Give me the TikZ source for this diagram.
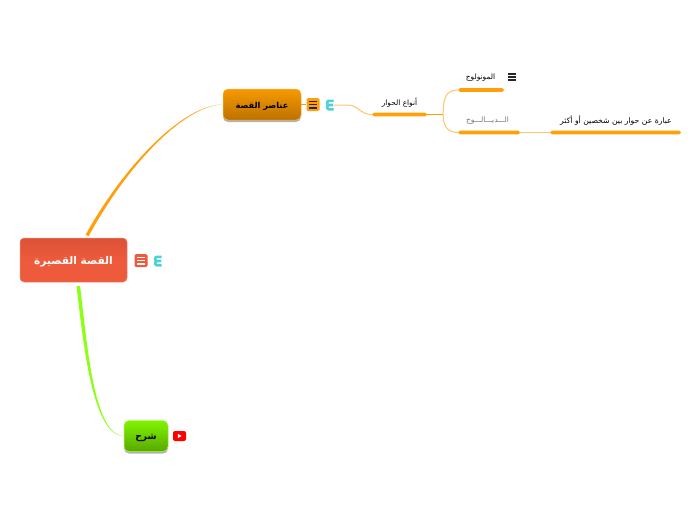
\documentclass[tikz,border=0pt]{standalone}
\usepackage{fontspec}
\usetikzlibrary{calc,shadows}
\TeXXeTstate=1
\newfontfamily\arabicfont[Script=Arabic]{DejaVu Sans}
\definecolor{rootred}{HTML}{EE5A3C}
\definecolor{rootdark}{HTML}{DC5237}
\definecolor{orangetop}{HTML}{F79A00}
\definecolor{orangebot}{HTML}{BC7100}
\definecolor{linkorange}{HTML}{FF9F0A}
\definecolor{paleorange}{HTML}{FFC56B}
\definecolor{greentop}{HTML}{80F400}
\definecolor{greenbot}{HTML}{58A800}
\definecolor{linkgreen}{HTML}{8CFF14}
\definecolor{teal}{HTML}{4DD0D6}
\tikzset{
  x=1pt,y=-1pt,
  softshadow/.style={drop shadow={shadow xshift=0pt,shadow yshift=-2pt,fill=black,opacity=.3}},
  rootbox/.style={rounded corners=4pt,minimum width=107pt,minimum height=44pt,inner sep=0pt,top color=rootdark,bottom color=rootred,middle color=rootred,draw=rootred!70!white,line width=.5pt,text=white},
  elembox/.style={rounded corners=5pt,minimum width=78pt,minimum height=31pt,inner sep=0pt,top color=orangetop,bottom color=orangebot,draw=orangetop!70!white,line width=.5pt,text=black,softshadow},
  greenbox/.style={rounded corners=5pt,minimum width=44pt,minimum height=31pt,inner sep=0pt,top color=greentop,bottom color=greenbot,draw=greentop!70!white,line width=.5pt,text=black,softshadow},
  topicbar/.style={rounded corners=1.8pt,fill=linkorange,inner sep=0pt,minimum height=3.6pt},
  topictext/.style={inner sep=0pt,text=black,font=\arabicfont\fontsize{7.4}{8}\selectfont},
  thinlink/.style={draw=paleorange,line width=1pt},
  midlink/.style={draw=linkorange,line width=1pt},
  notebadge/.style={rounded corners=1.5pt,minimum size=13pt,inner sep=0pt},
}
\newcommand{\burger}[3]{% centre, half width, colour
  \foreach \dy in {-3.2,0,3.2}{\fill[#3] ($(#1)+(-#2,\dy-.8)$) rectangle ($(#1)+(#2,\dy+.8)$);}
}
\newcommand{\tealicon}[1]{%
  \draw[teal,line width=2.6pt] ($(#1)+(3.5,-4.2)$) -- ($(#1)+(-1,-4.2)$) .. controls ($(#1)+(-3.5,-4.2)$) and ($(#1)+(-3.5,0)$) .. ($(#1)+(-1,0)$) -- ($(#1)+(3,0)$);
  \draw[teal,line width=2.6pt] ($(#1)+(-1,0)$) .. controls ($(#1)+(-3.5,0)$) and ($(#1)+(-3.5,4.2)$) .. ($(#1)+(-1,4.2)$) -- ($(#1)+(3.5,4.2)$);
}
\begin{document}
\begin{tikzpicture}
\useasboundingbox (0,0) rectangle (696,520);
\coordinate (rootA) at (85.5,235);
\coordinate (rootB) at (88.8,236);
\coordinate (rootC) at (76.5,286);
\coordinate (rootD) at (80,286);
% nodes
\node[rootbox] (root) at (73.5,260) {\raisebox{-1.5pt}[\height][\depth]{\arabicfont\fontsize{10.6}{12}\selectfont\bfseries\beginR القصة القصيرة\endR}};
\node[elembox] (elem) at (262,104.5) {\raisebox{-1.5pt}[\height][\depth]{\arabicfont\fontsize{8.2}{11}\selectfont\bfseries\beginR عناصر القصة\endR}};
\node[greenbox] (sharh) at (146,436) {\raisebox{-1.5pt}[\height][\depth]{\arabicfont\fontsize{9.2}{12}\selectfont\bfseries\beginR شرح\endR}};
% badges
\node[notebadge,fill=rootred] (rootnote) at (141,260.5) {};
\burger{rootnote}{4}{white}
\coordinate (rootteal) at (158,261);
\tealicon{rootteal}
\node[notebadge,fill=linkorange] (elemnote) at (313,104.5) {};
\burger{elemnote}{4.3}{black!85}
\coordinate (elemteal) at (330,105);
\tealicon{elemteal}
\node[rounded corners=2pt,fill=red,minimum width=13pt,minimum height=10pt,inner sep=0pt] (yt) at (179.5,436) {};
\fill[white] ($(yt)+(-1.6,-2)$) -- ($(yt)+(2.2,0)$) -- ($(yt)+(-1.6,2)$) -- cycle;
% topic bars
\node[topicbar,minimum width=55pt] (anwabar) at (399.5,114.5) {};
\node[topicbar,minimum width=46pt] (monobar) at (481,90) {};
\node[topicbar,minimum width=62pt] (diabar) at (489,132.5) {};
\node[topicbar,minimum width=131pt] (ibarabar) at (615.5,132.5) {};
% topic texts
\node[topictext] (anwa) at (399.5,103) {\beginR أنواع الحوار\endR};
\node[topictext] (mono) at (480.5,78) {\beginR المونولوج\endR};
\node[topictext,text=black!55] (dia) at (487.5,121) {\beginR الـــديـــالـــوج\endR};
\node[topictext] (ibara) at (616,121) {\fontsize{7.7}{8}\selectfont\beginR عبارة عن حوار بين شخصين أو أكثر\endR};
\coordinate (monoburger) at (512,77);
\burger{monoburger}{3.8}{black!85}
% connectors
\fill[linkorange] (rootA) .. controls (120,172) and (180,105) .. (elem.west) .. controls (180,106) and (122,174) .. (rootB) -- cycle;
\fill[linkgreen] (rootC) .. controls (83,340) and (92,436) .. (sharh.west) .. controls (93,435) and (87,340) .. (rootD) -- cycle;
\draw[midlink,line width=.8pt] (elem.east) -- (elemnote.west);
\draw[thinlink] (elemteal) ++(4,0) coordinate (e1) -- ++(14,0) .. controls +(10,0) and (360,114.5) .. (anwabar.west);
\draw[midlink] (anwabar.east) -- ++(16,0) coordinate (fork);
\draw[thinlink] (fork) .. controls (443,98) and (446,90) .. (monobar.west);
\draw[thinlink] (fork) .. controls (443,124) and (446,132.5) .. (diabar.west);
\draw[paleorange,line width=1.6pt] (diabar.east) -- (ibarabar.west);
\end{tikzpicture}
\end{document}
